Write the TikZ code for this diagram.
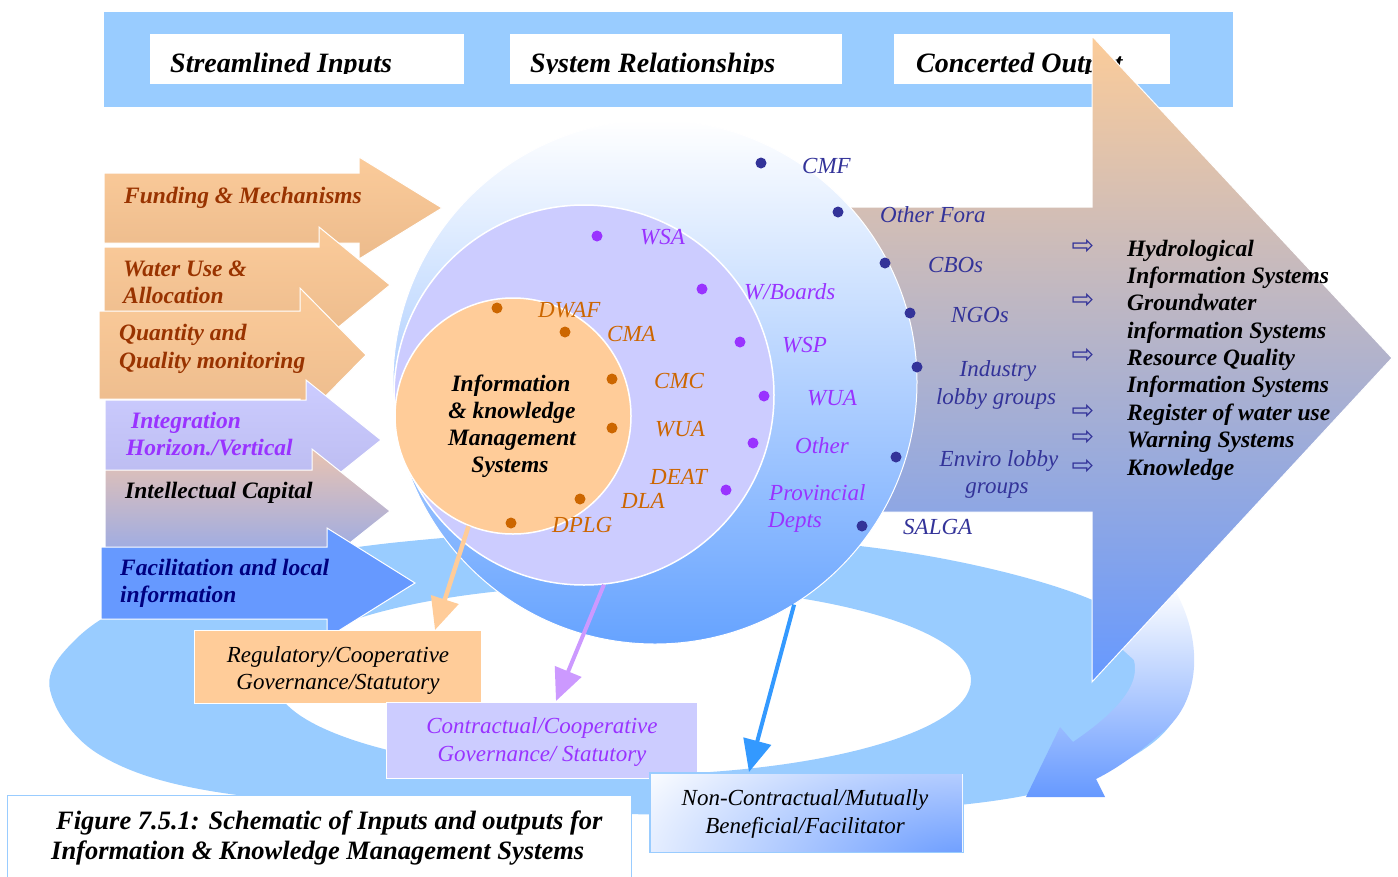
\documentclass[tikz,border=0pt]{standalone}
\usepackage{fontspec}
\setmainfont{Liberation Serif}
\newfontfamily\symfam{DejaVu Sans}
\usetikzlibrary{arrows.meta}
\definecolor{ringblue}{HTML}{99CCFF}
\definecolor{peach}{HTML}{FFCC99}
\definecolor{lav}{HTML}{CCCCFF}
\definecolor{navyd}{HTML}{333399}
\definecolor{purp}{HTML}{9933FF}
\definecolor{orng}{HTML}{CC6600}
\definecolor{brownt}{HTML}{993300}
\definecolor{blueb}{HTML}{6699FF}
\definecolor{navyt}{HTML}{000080}
\definecolor{arrtop}{HTML}{FCCC99}
\definecolor{arrmid}{HTML}{C6B5D2}
\definecolor{circmid}{HTML}{C8DDFF}
\definecolor{circbot}{HTML}{66A3FF}
\definecolor{fundtop}{HTML}{FBCB9A}
\definecolor{fundbot}{HTML}{ECBB8C}
\definecolor{integbot}{HTML}{B9B9EE}
\definecolor{inteltop}{HTML}{E9C3B1}
\definecolor{intelbot}{HTML}{8EA7EE}
\definecolor{lavarrow}{HTML}{CC99FF}
\definecolor{bluearrow}{HTML}{3399FF}
\begin{document}
\begin{tikzpicture}[x=1pt,y=-1pt,
  toptxt/.style={font=\fontsize{28}{32}\selectfont\bfseries\itshape, anchor=base west, inner sep=0pt},
  intxt/.style={font=\fontsize{23.5}{27}\selectfont\bfseries\itshape, anchor=base west, inner sep=0pt},
  nm/.style={font=\fontsize{23}{27}\selectfont\itshape, anchor=base west, inner sep=0pt},
  nmc/.style={nm, anchor=base},
  outtxt/.style={intxt, text=black},
  ctr/.style={font=\fontsize{23.5}{27}\selectfont\bfseries\itshape, anchor=base, inner sep=0pt},
  boxtxt/.style={font=\fontsize{23}{27}\selectfont\itshape, anchor=base, inner sep=0pt},
  captxt/.style={font=\fontsize{26.5}{30}\selectfont\bfseries\itshape, anchor=base west, inner sep=0pt},
  bul/.style={circle, inner sep=0pt, minimum size=11pt},
  sym/.style={font=\symfam\fontsize{27}{30}\selectfont, text=navyd, inner sep=0pt},
  larrow/.style={draw=white, line width=1pt},
  gbox/.style={anchor=north west, inner sep=0pt, line width=1.2pt},
  conn/.style={line width=4.5pt, -{Triangle[length=32pt,width=28pt]}},
]
\useasboundingbox (0,0) rectangle (1398,876);

% ---------- top banner ----------
\node[gbox, fill=ringblue, minimum width=1129pt, minimum height=95pt] (banner) at (103,11) {};
\node[gbox, fill=white, draw=white, minimum width=313pt, minimum height=49pt] (hb1) at (150,34) {};
\node[gbox, fill=white, draw=white, minimum width=331pt, minimum height=49pt] (hb2) at (510,34) {};
\node[gbox, fill=white, draw=white, minimum width=275pt, minimum height=49pt] (hb3) at (894,34) {};
\begin{scope}
  \clip (150,34) rectangle (1169,73.5);
  \node[toptxt] (h1) at (170,72.5) {Streamlined Inputs};
  \node[toptxt] (h2) at (530,72.5) {System Relationships};
  \node[toptxt] (h3) at (916,72.5) {Concerted Output};
\end{scope}

% ---------- ring ----------
\fill[ringblue, even odd rule] plot[smooth cycle, tension=0.6] coordinates {(50,690) (75,640) (140,600) (260,565) (400,542) (600,530) (800,540) (950,560) (1080,595) (1160,640) (1185,690) (1150,745) (1050,790) (900,810) (700,815) (450,808) (223,793) (100,755)} (623,680) ellipse [x radius=348pt, y radius=95pt];

% ---------- gradient curved arrow ----------
\shade[top color=white, bottom color=blueb] (1112,640) -- (1172,585) .. controls (1205,640) and (1200,700) .. (1165,730) .. controls (1140,752) and (1118,768) .. (1096,779) -- (1105,797) -- (1026,797) -- (1060,727) -- (1073,742) .. controls (1105,720) and (1142,690) .. (1134,660) -- cycle;

% ---------- big output arrow ----------
\shadedraw[draw=white, line width=1pt, top color=arrtop, middle color=arrmid, bottom color=blueb] (800,207) -- (1092,207) -- (1092,36) -- (1392,358) -- (1092,682) -- (1092,512) -- (800,512) -- cycle;

% ---------- circles ----------
\node[circle, minimum size=524pt, inner sep=0pt, draw=white, line width=1pt, top color=white, middle color=circmid, bottom color=circbot] (outc) at (655,382) {};
\node[circle, minimum size=380pt, inner sep=0pt, fill=lav, draw=white, line width=1.5pt] (midc) at (584,395) {};
\node[circle, minimum size=236pt, inner sep=0pt, fill=peach, draw=white, line width=1.5pt] (innc) at (513,416) {};

\node[ctr] (it1) at (511,391) {Information};
\node[ctr] (it2) at (512,418) {\& knowledge};
\node[ctr] (it3) at (512,445) {Management};
\node[ctr] (it4) at (510,472) {Systems};

% outer names
\node[bul, fill=navyd] (d1) at (761,163) {};
\node[bul, fill=navyd] (d2) at (838,212) {};
\node[bul, fill=navyd] (d3) at (885,263) {};
\node[bul, fill=navyd] (d4) at (910,313) {};
\node[bul, fill=navyd] (d5) at (917,367) {};
\node[bul, fill=navyd] (d6) at (896,457) {};
\node[bul, fill=navyd] (d7) at (862,526) {};
\node[nm, text=navyd] (n1) at (802,173) {CMF};
\node[nm, text=navyd] (n2) at (880,222) {Other Fora};
\node[nm, text=navyd] (n3) at (928,272) {CBOs};
\node[nm, text=navyd] (n4) at (951,322) {NGOs};
\node[nmc, text=navyd] (n5a) at (998,376) {Industry};
\node[nmc, text=navyd] (n5b) at (996,404) {lobby groups};
\node[nmc, text=navyd] (n6a) at (999,466) {Enviro lobby};
\node[nmc, text=navyd] (n6b) at (997,493) {groups};
\node[nm, text=navyd] (n7) at (903,534) {SALGA};

% middle names
\node[bul, fill=purp] (p1) at (597,236) {};
\node[bul, fill=purp] (p2) at (702,289) {};
\node[bul, fill=purp] (p3) at (740,342) {};
\node[bul, fill=purp] (p4) at (764,396) {};
\node[bul, fill=purp] (p5) at (753,443) {};
\node[bul, fill=purp] (p6) at (726,490) {};
\node[nm, text=purp] (m1) at (640,244) {WSA};
\node[nm, text=purp] (m2) at (744,299) {W/Boards};
\node[nm, text=purp] (m3) at (782,352) {WSP};
\node[nm, text=purp] (m4) at (807,405) {WUA};
\node[nm, text=purp] (m5) at (795,453) {Other};
\node[nm, text=purp] (m6a) at (769,500) {Provincial};
\node[nm, text=purp] (m6b) at (768,527) {Depts};

% inner names
\node[bul, fill=orng] (q1) at (497,308) {};
\node[bul, fill=orng] (q2) at (565,332) {};
\node[bul, fill=orng] (q3) at (612,379) {};
\node[bul, fill=orng] (q4) at (612,428) {};
\node[bul, fill=orng] (q5) at (580,499) {};
\node[bul, fill=orng] (q6) at (511,523) {};
\node[nm, text=orng] (g1) at (538,317) {DWAF};
\node[nm, text=orng] (g2) at (607,341) {CMA};
\node[nm, text=orng] (g3) at (654,388) {CMC};
\node[nm, text=orng] (g4) at (655,436) {WUA};
\node[nm, text=orng] (g5) at (650,484) {DEAT};
\node[nm, text=orng] (g6) at (621,508) {DLA};
\node[nm, text=orng] (g7) at (552,532) {DPLG};

% outputs
\node[sym] (ar1) at (1083,247) {⇨};
\node[sym] (ar2) at (1083,301) {⇨};
\node[sym] (ar3) at (1083,356) {⇨};
\node[sym] (ar4) at (1083,412) {⇨};
\node[sym] (ar5) at (1083,438) {⇨};
\node[sym] (ar6) at (1083,467) {⇨};
\node[outtxt] (o1) at (1127,256) {Hydrological};
\node[outtxt] (o2) at (1127,283) {Information Systems};
\node[outtxt] (o3) at (1127,310) {Groundwater};
\node[outtxt] (o4) at (1127,338) {information Systems};
\node[outtxt] (o5) at (1127,365) {Resource Quality};
\node[outtxt] (o6) at (1127,392) {Information Systems};
\node[outtxt] (o7) at (1127,420) {Register of water use};
\node[outtxt] (o8) at (1127,447) {Warning Systems};
\node[outtxt] (o9) at (1127,475) {Knowledge};

% ---------- left input arrows ----------
\shadedraw[larrow, top color=fundtop, bottom color=fundbot] (104,173) -- (359,173) -- (359,157) -- (442,208) -- (359,259) -- (359,243) -- (104,243) -- cycle;
\node[intxt, text=brownt] (l1) at (124,203) {Funding \& Mechanisms};

\shadedraw[larrow, top color=fundtop, bottom color=fundbot] (104,247) -- (319,247) -- (319,227) -- (390,285) -- (319,343) -- (319,323) -- (104,323) -- cycle;
\node[intxt, text=brownt] (l2a) at (123,276) {Water Use \&};
\node[intxt, text=brownt] (l2b) at (123,303) {Allocation};

\shadedraw[larrow, top color=fundtop, bottom color=fundbot] (99,311) -- (300,311) -- (300,288) -- (366,355) -- (300,422) -- (300,399) -- (99,399) -- cycle;
\node[intxt, text=brownt] (l3a) at (119,340) {Quantity and};
\node[intxt, text=brownt] (l3b) at (119,368) {Quality monitoring};

\shadedraw[larrow, top color=lav, bottom color=integbot] (105,400) -- (306,400) -- (306,380) -- (381,440) -- (306,500) -- (306,480) -- (105,480) -- cycle;
\node[intxt, text=purp] (l4a) at (131,428) {Integration};
\node[intxt, text=purp] (l4b) at (126,455) {Horizon./Vertical};

\shadedraw[larrow, top color=inteltop, bottom color=intelbot] (105,470) -- (312,470) -- (312,449) -- (390,511) -- (312,573) -- (312,552) -- (105,552) -- cycle;
\node[intxt, text=black] (l5) at (125,498) {Intellectual Capital};

\filldraw[larrow, fill=blueb] (101,547) -- (327,547) -- (327,528) -- (415,583) -- (327,638) -- (327,619) -- (101,619) -- cycle;
\node[intxt, text=navyt] (l6a) at (120,575) {Facilitation and local};
\node[intxt, text=navyt] (l6b) at (120,602) {information};

% ---------- connectors ----------
\coordinate (pe) at (435,630);
\coordinate (le) at (556,701);
\coordinate (be) at (749,772);
\draw[conn, peach] (innc.-112) -- (pe);
\draw[conn, lavarrow, line width=4pt] (midc.-84) -- (le);
\draw[conn, bluearrow, line width=4pt] (outc.-58) -- (be);

% ---------- bottom boxes ----------
\node[gbox, fill=peach, draw=white, minimum width=287pt, minimum height=73pt] (reg) at (194,630) {};
\node[boxtxt] (r1) at (338,662) {Regulatory/Cooperative};
\node[boxtxt] (r2) at (338,689) {Governance/Statutory};

\node[gbox, fill=lav, draw=white, minimum width=311pt, minimum height=76pt] (con) at (386,702) {};
\node[boxtxt, text=purp] (k1) at (542,733) {Contractual/Cooperative};
\node[boxtxt, text=purp] (k2) at (542,761) {Governance/ Statutory};

\node[gbox, fill=white, minimum width=312pt, minimum height=78pt] (ncon) at (650,773) {};
\begin{scope}
  \clip (650,773) rectangle (962,851);
  \shade[inner color=blueb, outer color=white] (965,865) ellipse [x radius=380pt, y radius=180pt];
\end{scope}
\draw[ringblue, line width=1.2pt] (ncon.north west) rectangle (ncon.south east);
\node[boxtxt] (nc1) at (805,805) {Non-Contractual/Mutually};
\node[boxtxt] (nc2) at (805,833) {Beneficial/Facilitator};

\node[gbox, fill=white, draw=ringblue, minimum width=624pt, minimum height=95pt] (capb) at (7,795) {};
\node[captxt] (c1) at (56,829) {Figure 7.5.1: Schematic of Inputs and outputs for};
\node[captxt] (c2) at (51,859) {Information \& Knowledge Management Systems};
\end{tikzpicture}
\end{document}
